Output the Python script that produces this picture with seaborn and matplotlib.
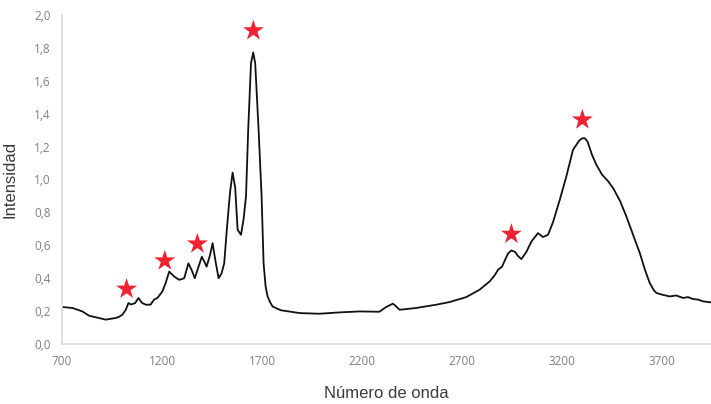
import matplotlib
matplotlib.use("Agg")
import matplotlib.pyplot as plt
import seaborn as sns
import pandas as pd
from matplotlib.ticker import FuncFormatter

# Spectrum (wavenumber, intensity)
wavenumber = [700, 752, 802, 835, 885, 918, 968, 985, 1002, 1019, 1032, 1045, 1066, 1082,
              1100, 1119, 1143, 1160, 1177, 1190, 1202, 1218, 1236, 1261, 1286, 1300, 1311,
              1332, 1348, 1364, 1380, 1399, 1412, 1423, 1440, 1453, 1468, 1483, 1498, 1511,
              1524, 1540, 1553, 1566, 1578, 1595, 1608, 1620, 1631, 1645, 1656, 1666, 1683,
              1698, 1708, 1718, 1728, 1740, 1753, 1775, 1795, 1850, 1887, 1987, 2087, 2187,
              2287, 2321, 2354, 2365, 2388, 2471, 2571, 2638, 2721, 2788, 2838, 2865, 2880,
              2900, 2930, 2947, 2965, 2980, 2997, 3022, 3047, 3080, 3105, 3130, 3155, 3189,
              3222, 3255, 3285, 3300, 3314, 3328, 3350, 3372, 3400, 3430, 3456, 3490, 3522,
              3555, 3589, 3615, 3639, 3660, 3673, 3700, 3739, 3770, 3806, 3830, 3856, 3880,
              3906, 3945]
intensity = [0.225, 0.219, 0.198, 0.172, 0.158, 0.148, 0.158, 0.165, 0.178, 0.208, 0.249,
             0.240, 0.249, 0.280, 0.250, 0.239, 0.239, 0.270, 0.280, 0.300, 0.320, 0.370,
             0.440, 0.410, 0.390, 0.395, 0.400, 0.490, 0.450, 0.400, 0.460, 0.530, 0.500,
             0.470, 0.540, 0.613, 0.500, 0.400, 0.430, 0.490, 0.694, 0.920, 1.042, 0.950,
             0.694, 0.664, 0.760, 0.897, 1.302, 1.707, 1.772, 1.707, 1.302, 0.897, 0.490,
             0.350, 0.289, 0.255, 0.228, 0.215, 0.205, 0.195, 0.188, 0.184, 0.192, 0.198,
             0.196, 0.225, 0.245, 0.235, 0.208, 0.219, 0.239, 0.255, 0.285, 0.330, 0.380,
             0.420, 0.451, 0.470, 0.550, 0.569, 0.560, 0.535, 0.516, 0.560, 0.623, 0.674,
             0.650, 0.664, 0.740, 0.877, 1.020, 1.180, 1.235, 1.250, 1.251, 1.230, 1.150,
             1.089, 1.030, 0.990, 0.947, 0.870, 0.775, 0.665, 0.553, 0.450, 0.370, 0.325,
             0.310, 0.300, 0.289, 0.295, 0.280, 0.285, 0.273, 0.270, 0.259, 0.253]

# Star markers above the annotated peaks
star_x = [1023, 1214, 1377, 1657, 2947, 3302]
star_y = [0.334, 0.506, 0.609, 1.905, 0.668, 1.363]

x_ticks = [700, 1200, 1700, 2200, 2700, 3200, 3700]
y_ticks = [0.0, 0.2, 0.4, 0.6, 0.8, 1.0, 1.2, 1.4, 1.6, 1.8, 2.0]

sns.set_theme(style="white")
plt.rcParams['font.family'] = ['Open Sans', 'DejaVu Sans']

spec = pd.DataFrame({"x": wavenumber, "y": intensity})
stars = pd.DataFrame({"x": star_x, "y": star_y})

fig = plt.figure(figsize=(7.11, 4.04), dpi=100)
ax = fig.add_axes([62 / 711, 60 / 404, 1 - 62 / 711, (344 - 15) / 404])

sns.lineplot(data=spec, x="x", y="y", ax=ax, color="#111111", linewidth=1.3)
sns.scatterplot(data=stars, x="x", y="y", ax=ax, marker="*", s=250,
                color="#ee2230", edgecolor="none", zorder=5)

ax.set_xlim(700, 3945)
ax.set_ylim(0, 2.0)
ax.set_xticks(x_ticks)
ax.set_yticks(y_ticks)
ax.yaxis.set_major_formatter(FuncFormatter(lambda v, p: f"{v:.1f}".replace(".", ",")))
ax.tick_params(axis="both", length=0, labelsize=8.5, labelcolor="#808080", pad=8)

for s in ["top", "right"]:
    ax.spines[s].set_visible(False)
for s in ["left", "bottom"]:
    ax.spines[s].set_color("#d9d9d9")
    ax.spines[s].set_linewidth(1.2)

ax.set_xlabel("Número de onda", fontsize=12, color="#3a3a3a", labelpad=13,
              family=["Liberation Sans", "DejaVu Sans"])
ax.set_ylabel("Intensidad", fontsize=12, color="#3a3a3a", labelpad=12,
              family=["Liberation Sans", "DejaVu Sans"])

fig.savefig("out.png", dpi=100)
